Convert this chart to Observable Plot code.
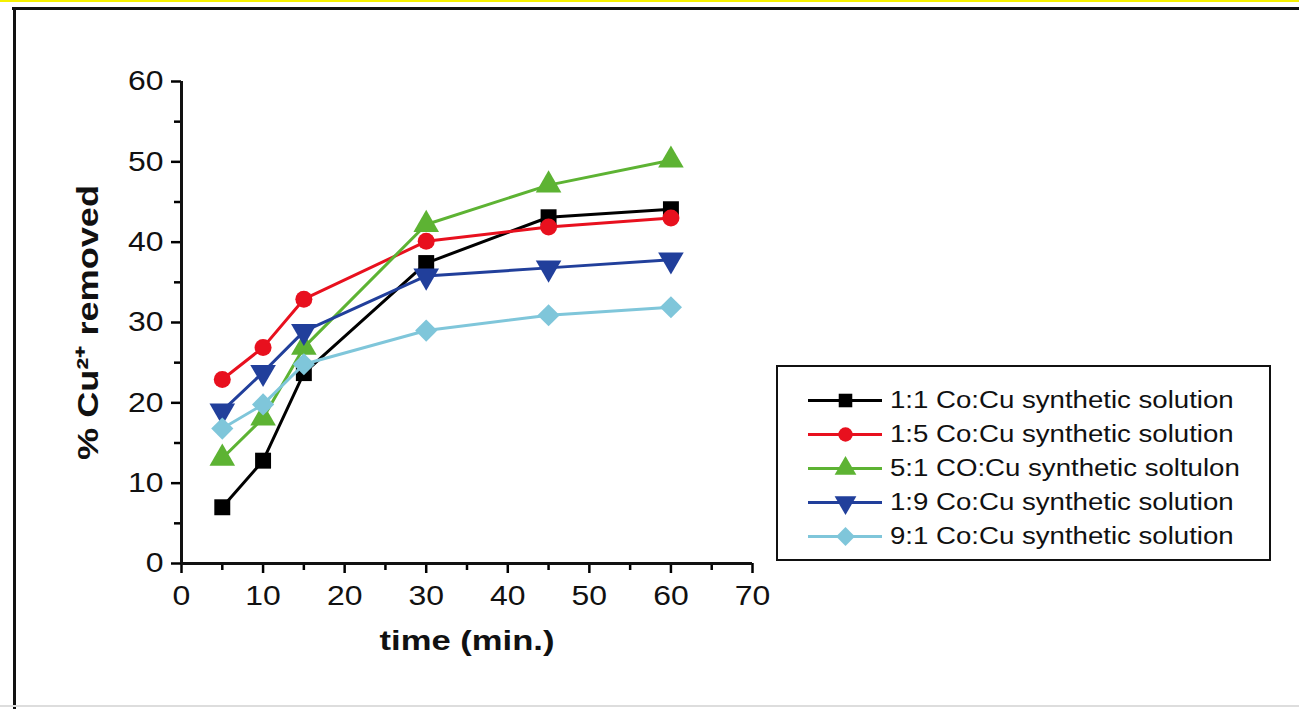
<!DOCTYPE html>
<html>
<head>
<meta charset="utf-8">
<script src="https://cdn.jsdelivr.net/npm/d3@7"></script>
<script src="https://cdn.jsdelivr.net/npm/@observablehq/plot@0.6"></script>
<style>
  html, body { margin: 0; padding: 0; background: #fff; }
  #page { position: relative; width: 1299px; height: 709px; overflow: hidden; background: #fff; font-family: "Liberation Sans", Arial, sans-serif; }
  #yellow { position: absolute; left: 0; top: 0; width: 1299px; height: 2px; background: #f5f000; }
  #ftop { position: absolute; left: 12px; top: 7px; width: 1300px; height: 3px; background: #111; }
  #fleft { position: absolute; left: 13px; top: 7px; width: 3px; height: 710px; background: #111; }
  #fbottom { position: absolute; left: 0; top: 705px; width: 1299px; height: 2px; background: #ddd; }
  #chart { position: absolute; left: 0; top: 0; }
  #legend { position: absolute; left: 776px; top: 365px; width: 491px; height: 192px; border: 2px solid #111; background: #fff; box-sizing: content-box; }
  .row { position: absolute; left: 30px; height: 30px; display: flex; align-items: center; }
  .row span { font-size: 23px; color: #111; margin-left: 8px; white-space: nowrap; display: inline-block; transform-origin: left center; }
</style>
</head>
<body>
<div id="page">
  <div id="yellow"></div>
  <div id="ftop"></div>
  <div id="fleft"></div>
  <div id="fbottom"></div>
  <div id="chart"></div>
  <div id="legend"></div>
</div>
<script>
const times = [5, 10, 15, 30, 45, 60];
const seriesNames = [
  "1:1 Co:Cu synthetic solution",
  "1:5 Co:Cu synthetic solution",
  "5:1 CO:Cu synthetic soltulon",
  "1:9 Co:Cu synthetic solution",
  "9:1 Co:Cu synthetic solution"
];
const s11 = [7, 12.8, 23.7, 37.4, 43.1, 44.1];
const s15 = [22.9, 26.9, 32.9, 40.1, 41.9, 43.0];
const s51 = [13.1, 18.1, 26.9, 42.2, 47.1, 50.2];
const s19 = [19.0, 23.8, 28.9, 35.8, 36.8, 37.8];
const s91 = [16.8, 19.8, 24.8, 29.0, 30.9, 31.9];
const seriesValues = [s11, s15, s51, s19, s91];
const colors = ["#000000", "#e8101e", "#5db333", "#213f9b", "#7fc6da"];
const xTicks = [0, 10, 20, 30, 40, 50, 60, 70];
const xMinor = [5, 15, 25, 35, 45, 55, 65];
const yTicks = [0, 10, 20, 30, 40, 50, 60];
const yMinor = [5, 15, 25, 35, 45, 55];

const triangleDown = {
  draw(context, size) {
    const y = -Math.sqrt(size / (Math.sqrt(3) * 3));
    context.moveTo(0, -2 * y);
    context.lineTo(-Math.sqrt(3) * y, y);
    context.lineTo(Math.sqrt(3) * y, y);
    context.closePath();
  }
};
const symbols = ["square", "circle", "triangle", triangleDown, "diamond2"];
const sizes = [9, 8.5, 9.5, 9.5, 10];

const data = [];
seriesNames.forEach((name, i) => {
  times.forEach((t, j) => data.push({series: name, idx: i, time: t, value: seriesValues[i][j]}));
});

const font = "Liberation Sans, Arial, sans-serif";
const marks = [
  Plot.axisX(xTicks, {tickSize: 10, tickPadding: 12, fontSize: 28, strokeWidth: 2.5, label: null, fill: "#111", className: "ticklab"}),
  Plot.axisX(xMinor, {tickSize: 7, strokeWidth: 2.5, text: null, label: null}),
  Plot.axisY(yTicks, {tickSize: 10, tickPadding: 8, fontSize: 28, strokeWidth: 2.5, label: null, fill: "#111", className: "ticklab"}),
  Plot.axisY(yMinor, {tickSize: 7, strokeWidth: 2.5, text: null, label: null}),
  Plot.ruleX([0], {strokeWidth: 3, stroke: "#111"}),
  Plot.ruleY([0], {strokeWidth: 3, stroke: "#111"})
];
seriesNames.forEach((name, i) => {
  const d = data.filter(r => r.idx === i);
  marks.push(Plot.line(d, {x: "time", y: "value", stroke: colors[i], strokeWidth: 3}));
  marks.push(Plot.dot(d, {x: "time", y: "value", fill: colors[i], stroke: "none", symbol: () => symbols[i], r: sizes[i]}));
});

const chart = Plot.plot({
  width: 1299,
  height: 709,
  marginLeft: 181,
  marginRight: 547,
  marginTop: 81,
  marginBottom: 146,
  style: {background: "transparent", fontFamily: font, overflow: "visible"},
  x: {domain: [0, 70]},
  y: {domain: [0, 60]},
  symbol: {type: "identity"},
  marks: [
    ...marks,
    Plot.text(["time (min.)"], {frameAnchor: "bottom", dy: 86, fontSize: 28, fontWeight: "bold", fill: "#111", className: "xtitle"}),
    Plot.text(["% Cu²⁺ removed"], {frameAnchor: "left", textAnchor: "middle", dx: -93, rotate: -90, fontSize: 30, fontWeight: "bold", fill: "#111", className: "ytitle"})
  ]
});
document.getElementById("chart").appendChild(chart);

// slight horizontal stretch of texts, as in the reference raster
d3.select(chart).selectAll(".ticklab text").each(function() {
  const len = this.getComputedTextLength();
  this.setAttribute("textLength", (len * 1.14).toFixed(1));
  this.setAttribute("lengthAdjust", "spacingAndGlyphs");
});
d3.select(chart).selectAll(".xtitle text").attr("textLength", 175).attr("lengthAdjust", "spacingAndGlyphs");
d3.select(chart).selectAll(".ytitle text").attr("textLength", 275).attr("lengthAdjust", "spacingAndGlyphs");

// legend
const legend = document.getElementById("legend");
const rowTops = [18, 52, 86, 120, 154];
seriesNames.forEach((name, i) => {
  const row = document.createElement("div");
  row.className = "row";
  row.style.top = rowTops[i] + "px";
  const sw = Plot.plot({
    width: 74, height: 30, margin: 0,
    style: {background: "transparent"},
    x: {domain: [0, 1], axis: null},
    y: {domain: [0, 1], axis: null},
    symbol: {type: "identity"},
    marks: [
      Plot.ruleY([0.5], {stroke: colors[i], strokeWidth: 3}),
      Plot.dot([{x: 0.5, y: 0.5}], {x: "x", y: "y", fill: colors[i], stroke: "none", symbol: () => symbols[i], r: sizes[i] * 0.85})
    ]
  });
  row.appendChild(sw);
  const span = document.createElement("span");
  span.textContent = name;
  span.style.transform = "scaleX(1.2)";
  row.appendChild(span);
  legend.appendChild(row);
});
</script>
</body>
</html>
